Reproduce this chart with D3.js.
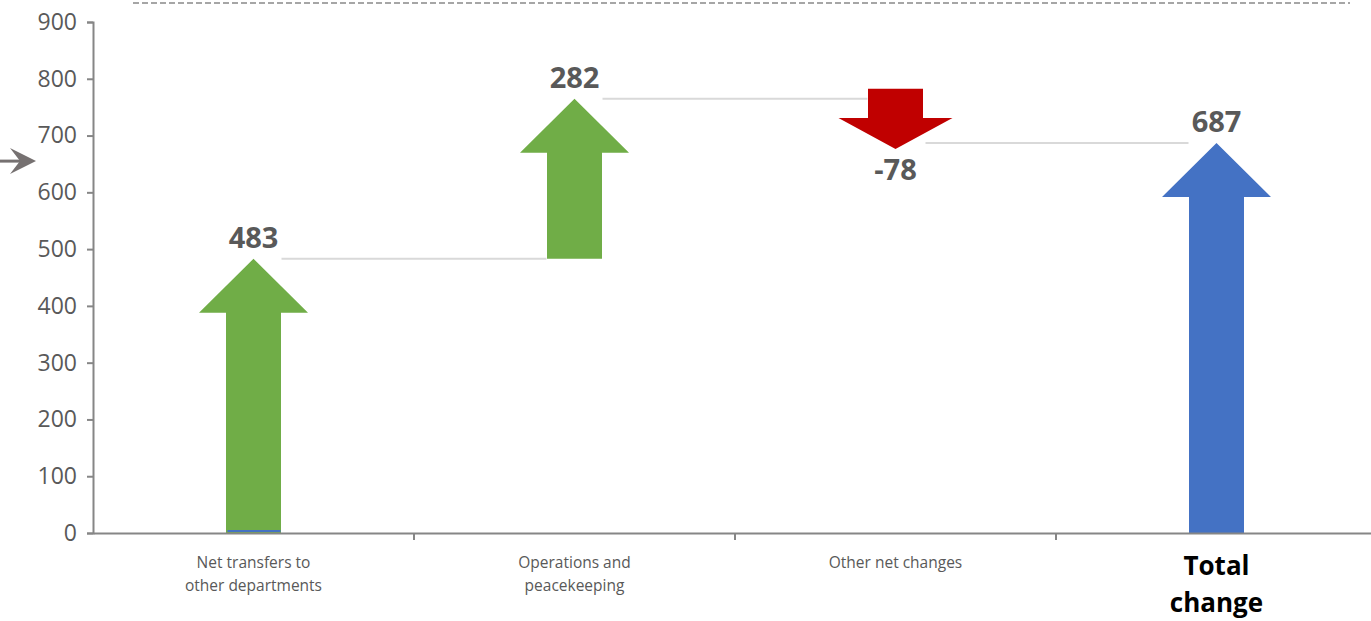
<!DOCTYPE html>
<html>
<head>
<meta charset="utf-8">
<script src="https://cdn.jsdelivr.net/npm/d3@7"></script>
<style>
  body { margin: 0; background: #fff; }
  svg { display: block; font-family: "Open Sans", sans-serif; }
  .axis path, .axis line { stroke: #868686; stroke-width: 2; }
  .axis text { fill: #595959; }
</style>
</head>
<body>
<svg id="myGraph" width="1371" height="621"></svg>
<script>
// 데이터
var categories = ["Net transfers to|other departments", "Operations and|peacekeeping", "Other net changes", "Total|change"];
var changes = [483, 282, -78, 687];
var kinds = ["up", "up", "down", "total"];
var yTicks = [0, 100, 200, 300, 400, 500, 600, 700, 800, 900];

var colors = { up: "#70ad47", down: "#c00000", total: "#4472c4" };

var svg = d3.select("#myGraph");
var marginLeft = 93, marginTop = 22, baseY = 533;

// 스케일
var x = d3.scaleBand().domain(categories).range([marginLeft, marginLeft + 321 * 4]).padding(0);
var y = d3.scaleLinear().domain([0, 900]).range([baseY, marginTop]);

// 시작/끝 값 계산
var run = 0;
var steps = changes.map(function(v, i){
  var s, e;
  if (kinds[i] == "total") { s = 0; e = v; run = v; }
  else { s = run; e = run + v; run = e; }
  return { cat: categories[i], kind: kinds[i], start: s, end: e, value: v };
});

// 상단 점선
svg.append("line")
   .attr("x1", 133).attr("x2", 1350).attr("y1", 3).attr("y2", 3)
   .attr("stroke", "#a6a6a6").attr("stroke-width", 2).attr("stroke-dasharray", "6,3");

// 왼쪽 화살표
var arrowY = y(655);
svg.append("line").attr("x1", 0).attr("x2", 28).attr("y1", arrowY).attr("y2", arrowY)
   .attr("stroke", "#767171").attr("stroke-width", 3);
svg.append("path")
   .attr("d", "M 36 " + arrowY + " L 10 " + (arrowY - 13) + " L 20 " + arrowY + " L 10 " + (arrowY + 13) + " Z")
   .attr("fill", "#767171");

// 연결선
for (var i = 0; i < steps.length - 1; i++) {
  var cx1 = x(steps[i].cat) + x.bandwidth() / 2;
  var cx2 = x(steps[i + 1].cat) + x.bandwidth() / 2;
  var lx1 = steps[i].kind == "down" ? cx1 + 30 : cx1 + 28;
  svg.append("line")
     .attr("x1", lx1).attr("x2", cx2 - 28)
     .attr("y1", y(steps[i].end)).attr("y2", y(steps[i].end))
     .attr("stroke", "#d9d9d9").attr("stroke-width", 2);
}

// 화살표 모양
var shaftW = 55, headW = 109, headH = 54;
function arrowPath(d) {
  var cx = x(d.cat) + x.bandwidth() / 2;
  var sw = shaftW / 2, hw = headW / 2;
  if (d.kind == "down") {
    var y0 = y(d.start) - 10, y1 = y(d.end) + 6;
    var hb = y1 - 31;
    return "M" + (cx - sw) + "," + y0 + "L" + (cx + sw) + "," + y0 + "L" + (cx + sw) + "," + hb +
           "L" + (cx + 57) + "," + hb + "L" + cx + "," + y1 + "L" + (cx - 57) + "," + hb +
           "L" + (cx - sw) + "," + hb + "Z";
  }
  var yb = y(d.start), yt = y(d.end);
  var hb2 = yt + headH;
  return "M" + (cx - sw) + "," + yb + "L" + (cx + sw) + "," + yb + "L" + (cx + sw) + "," + hb2 +
         "L" + (cx + hw) + "," + hb2 + "L" + cx + "," + yt + "L" + (cx - hw) + "," + hb2 +
         "L" + (cx - sw) + "," + hb2 + "Z";
}

svg.selectAll("path.arrow")
   .data(steps)
   .enter()
   .append("path")
   .attr("class", "arrow")
   .attr("d", arrowPath)
   .attr("fill", function(d){ return colors[d.kind]; });

// 첫 막대 아래 파란 선
svg.append("line")
   .attr("x1", x(categories[0]) + x.bandwidth() / 2 - 26).attr("x2", x(categories[0]) + x.bandwidth() / 2 + 27)
   .attr("y1", baseY - 2).attr("y2", baseY - 2)
   .attr("stroke", "#4472c4").attr("stroke-width", 2);

// 값 레이블
svg.selectAll("text.val")
   .data(steps)
   .enter()
   .append("text")
   .attr("class", "val")
   .attr("x", function(d){ return x(d.cat) + x.bandwidth() / 2; })
   .attr("y", function(d){ return d.kind == "down" ? y(d.end) + 37 : y(d.end) - 11; })
   .attr("text-anchor", "middle")
   .attr("font-size", 29)
   .attr("font-weight", "bold")
   .attr("fill", "#595959")
   .text(function(d){ return d.value; });

// Y축
var yAxis = svg.append("g")
   .attr("class", "axis")
   .attr("transform", "translate(" + marginLeft + ",0)")
   .call(d3.axisLeft(y).tickValues(yTicks).tickSize(6).tickSizeOuter(6).tickPadding(10));
yAxis.attr("font-family", null).attr("font-size", null);
yAxis.selectAll("text").attr("font-size", 23);

// X축
var xAxis = svg.append("g")
   .attr("class", "axis")
   .attr("transform", "translate(0," + baseY + ")")
   .call(d3.axisBottom(x).tickSize(0).tickSizeOuter(0).tickFormat(""));
xAxis.selectAll(".tick").remove();
var bounds = categories.map(function(c){ return x(c); });
xAxis.selectAll("line.bnd")
   .data(bounds.slice(1))
   .enter()
   .append("line")
   .attr("class", "bnd")
   .attr("x1", function(d){ return d; }).attr("x2", function(d){ return d; })
   .attr("y1", 0).attr("y2", 7);

// 카테고리 레이블
categories.forEach(function(c, i){
  var lines = c.split("|");
  var isTotal = kinds[i] == "total";
  var t = svg.append("text")
     .attr("x", x(c) + x.bandwidth() / 2)
     .attr("y", isTotal ? 575 : 568)
     .attr("text-anchor", "middle")
     .attr("font-size", isTotal ? 26 : 15.5)
     .attr("font-weight", isTotal ? "bold" : "normal")
     .attr("fill", isTotal ? "#000" : "#595959");
  lines.forEach(function(l, j){
    t.append("tspan")
     .attr("x", x(c) + x.bandwidth() / 2)
     .attr("dy", j == 0 ? 0 : (isTotal ? 37 : 23))
     .text(l);
  });
});
</script>
</body>
</html>
